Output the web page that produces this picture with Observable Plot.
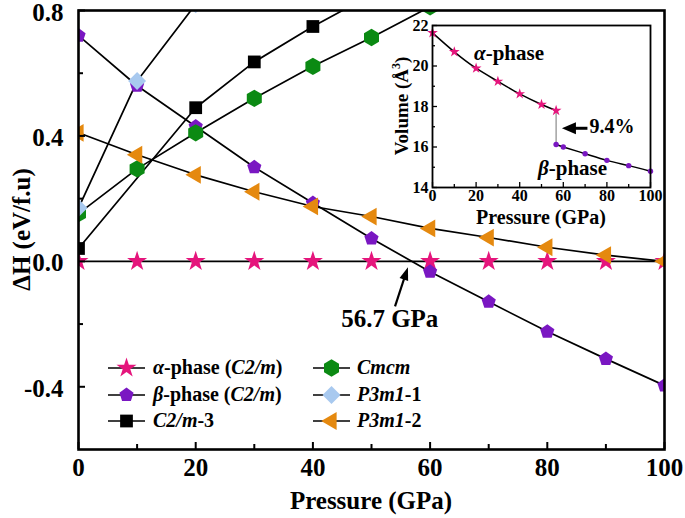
<!DOCTYPE html>
<html><head><meta charset="utf-8">
<script src="https://cdn.jsdelivr.net/npm/d3@7"></script>
<script src="https://cdn.jsdelivr.net/npm/@observablehq/plot@0.6"></script>
<style>
body{margin:0;background:#fff}
#wrap{position:relative;width:685px;height:518px;overflow:hidden}
#wrap svg{position:absolute;left:0;top:0}
</style></head><body><div id="wrap"></div>
<script>
// ---------- data (main chart: enthalpy difference vs pressure) ----------
const pressure = [0,10,20,30,40,50,60,70,80,90,100];
const alphaDH  = [0,0,0,0,0,0,0,0,0,0,0];
const betaDH   = [0.72,0.56,0.43,0.30,0.186,0.073,-0.033,-0.129,-0.224,-0.311,-0.396];
const c2m3P    = [0,20,30,40,50];
const c2m3DH   = [0.041,0.49,0.636,0.749,0.85];
const cmcmP    = [0,10,20,30,40,50,60];
const cmcmDH   = [0.152,0.295,0.41,0.52,0.622,0.714,0.812];
const p3m1aP   = [0,10,20];
const p3m1aDH  = [0.17,0.575,0.82];
const p3m1bDH  = [0.41,0.34,0.276,0.222,0.175,0.143,0.105,0.076,0.045,0.02,0.0];

// ---------- data (inset: volume vs pressure) ----------
const insetAlphaP = [0,10,20,30,40,50,56.7];
const insetAlphaV = [21.64,20.7,19.89,19.24,18.62,18.1,17.8];
const insetBetaP  = [56.7,60,70,80,90,100];
const insetBetaV  = [16.12,16.0,15.67,15.34,15.08,14.8];
const transitionP = 56.7;
const jumpLabel = "9.4%";
const transitionLabel = "56.7 GPa";

// ---------- ticks ----------
const xLabels = [0,20,40,60,80,100];
const xMinor  = [10,30,50,70,90];
const yLabels = [-0.4,0,0.4,0.8];
const yMinor  = [-0.2,0.2,0.6];
const insetXLabels = [0,20,40,60,80,100];
const insetXMinor = [10,30,50,70,90];
const insetYLabels = [14,16,18,20,22];
const insetYMinor = [15,17,19,21];

// ---------- symbols ----------
const pentagon = {draw(ctx,size){const R=Math.sqrt(size/(2.5*Math.sin(2*Math.PI/5)));for(let k=0;k<5;k++){const a=-Math.PI/2+k*2*Math.PI/5,x=R*Math.cos(a),y=R*Math.sin(a);k?ctx.lineTo(x,y):ctx.moveTo(x,y);}ctx.closePath();}};
const hexagon = {draw(ctx,size){const rx=Math.sqrt(size/Math.PI),ry=rx*2/Math.sqrt(3);ctx.moveTo(0,-ry);ctx.lineTo(rx,-ry/2);ctx.lineTo(rx,ry/2);ctx.lineTo(0,ry);ctx.lineTo(-rx,ry/2);ctx.lineTo(-rx,-ry/2);ctx.closePath();}};
const triLeft = {draw(ctx,size){const s=Math.sqrt(4*size/Math.sqrt(3)),h=s*Math.sqrt(3)/2;ctx.moveTo(-2*h/3,0);ctx.lineTo(h/3,-s/2);ctx.lineTo(h/3,s/2);ctx.closePath();}};

const series = [
  {key:"alpha", P:pressure, H:alphaDH, symbol:d3.symbolStar,    color:"#e5157c", r:6.3,
   label:[["α",1],["-phase (",0],["C2/m",1],[")",0]]},
  {key:"beta",  P:pressure, H:betaDH,  symbol:pentagon,         color:"#7a17c2", r:6.5,
   label:[["β",1],["-phase (",0],["C2/m",1],[")",0]]},
  {key:"c2m3",  P:c2m3P,   H:c2m3DH,  symbol:d3.symbolSquare,   color:"#000000", r:7.2,
   label:[["C2/m",1],["-3",0]]},
  {key:"cmcm",  P:cmcmP,   H:cmcmDH,  symbol:hexagon,           color:"#0b8a13", r:7.5,
   label:[["Cmcm",1]]},
  {key:"p3m1a", P:p3m1aP,  H:p3m1aDH, symbol:d3.symbolDiamond2, color:"#a8c9ef", r:8.1,
   label:[["P3m1",1],["-1",0]]},
  {key:"p3m1b", P:pressure, H:p3m1bDH, symbol:triLeft,          color:"#e5890f", r:6.6,
   label:[["P3m1",1],["-2",0]]}
];
const rowsOf = s => s.P.map((p,i)=>({P:p,H:s.H[i]}));

const FONT = "'Liberation Serif','Times New Roman',serif";
const W=685,H=518,mL=78,mR=21,mT=10,mB=69;
const fw=W-mL-mR, fh=H-mT-mB;

const main = Plot.plot({
  width:W, height:H, marginLeft:mL, marginRight:mR, marginTop:mT, marginBottom:mB,
  x:{domain:[0,100]}, y:{domain:[-0.6,0.8]},
  style:{fontFamily:FONT, fontWeight:"bold", background:"transparent", color:"black", overflow:"visible"},
  marks:[
    ...series.map(s=>Plot.line(rowsOf(s),{x:"P",y:"H",stroke:"black",strokeWidth:1.7,clip:true})),
    ...series.map(s=>Plot.dot(rowsOf(s),{x:"P",y:"H",symbol:s.symbol,r:s.r,fill:s.color,stroke:"none",clip:true})),
    Plot.tickX(xLabels,{x:d=>d,insetTop:fh-7,strokeWidth:2}),
    Plot.tickX(xMinor,{x:d=>d,insetTop:fh-5,strokeWidth:2}),
    Plot.tickY(yLabels,{y:d=>d,insetRight:fw-7,strokeWidth:2}),
    Plot.tickY(yMinor,{y:d=>d,insetRight:fw-5,strokeWidth:2}),
    Plot.axisX({ticks:xLabels,tickSize:0,tickPadding:9,label:null,fontSize:25,fontWeight:"bold"}),
    Plot.axisY({ticks:yLabels,tickSize:0,tickPadding:15,label:null,fontSize:25,fontWeight:"bold",tickFormat:d=>d.toFixed(1),dy:2}),
    Plot.frame({strokeWidth:2.6})
  ]
});

const iW=295,iH=230,imL=52,imR=25,imT=25,imB=43;
const ifw=iW-imL-imR, ifh=iH-imT-imB;
const alphaRows = insetAlphaP.map((p,i)=>({P:p,V:insetAlphaV[i]}));
const betaRows  = insetBetaP.map((p,i)=>({P:p,V:insetBetaV[i]}));
const jump = [{P:transitionP, v1:insetAlphaV[insetAlphaV.length-1], v2:insetBetaV[0]}];
const inset = Plot.plot({
  width:iW, height:iH, marginLeft:imL, marginRight:imR, marginTop:imT, marginBottom:imB,
  x:{domain:[0,100]}, y:{domain:[14,22]},
  style:{fontFamily:FONT, fontWeight:"bold", background:"transparent", color:"black"},
  marks:[
    Plot.ruleX(jump,{x:"P",y1:"v1",y2:"v2",stroke:"#8a8a8a",strokeWidth:1.2}),
    Plot.line(alphaRows,{x:"P",y:"V",curve:"natural",stroke:"black",strokeWidth:1.5}),
    Plot.line(betaRows,{x:"P",y:"V",curve:"natural",stroke:"black",strokeWidth:1.5}),
    Plot.dot(alphaRows,{x:"P",y:"V",symbol:d3.symbolStar,r:3.4,fill:series[0].color,stroke:"none"}),
    Plot.dot(betaRows,{x:"P",y:"V",r:2.7,fill:series[1].color,stroke:"none"}),
    Plot.tickX(insetXLabels,{x:d=>d,insetTop:ifh-5,strokeWidth:1.3}),
    Plot.tickX(insetXMinor,{x:d=>d,insetTop:ifh-3,strokeWidth:1.3}),
    Plot.tickY(insetYLabels,{y:d=>d,insetRight:ifw-5,strokeWidth:1.3}),
    Plot.tickY(insetYMinor,{y:d=>d,insetRight:ifw-3,strokeWidth:1.3}),
    Plot.axisX({ticks:insetXLabels,tickSize:0,tickPadding:2,label:null,fontSize:16,fontWeight:"bold"}),
    Plot.axisY({ticks:insetYLabels,tickSize:0,tickPadding:4,label:null,fontSize:16,fontWeight:"bold"}),
    Plot.frame({strokeWidth:1.8})
  ]
});

const wrap = document.getElementById("wrap");
wrap.appendChild(main);
inset.style.left = "380px"; inset.style.top = "0px";
wrap.appendChild(inset);

function richText(g, x, y, parts, size, anchor){
  const t = g.append("text").attr("x",x).attr("y",y).attr("font-family",FONT).attr("font-weight","bold")
    .attr("font-size",size).attr("dominant-baseline","middle").attr("text-anchor",anchor||"start").attr("fill","black");
  parts.forEach(([s,it])=>t.append("tspan").attr("font-style",it?"italic":"normal").text(s));
  return t;
}
function arrow(g,x1,y1,x2,y2,len,wid,sw){
  const dx=x2-x1, dy=y2-y1, L=Math.hypot(dx,dy), ux=dx/L, uy=dy/L;
  const bx=x2-ux*len, by=y2-uy*len;
  g.append("line").attr("x1",x1).attr("y1",y1).attr("x2",bx+ux).attr("y2",by+uy).attr("stroke","black").attr("stroke-width",sw);
  g.append("path").attr("d",`M${x2},${y2}L${bx-uy*wid/2},${by+ux*wid/2}L${bx+uy*wid/2},${by-ux*wid/2}Z`).attr("fill","black");
}

// main annotations
const sx = main.scale("x"), sy = main.scale("y");
const ms = d3.select(main);
ms.append("text").attr("x",mL+fw/2).attr("y",503).attr("text-anchor","middle").attr("dominant-baseline","middle")
  .attr("font-family",FONT).attr("font-weight","bold").attr("font-size",25).text("Pressure (GPa)");
ms.append("text").attr("transform",`translate(24,${mT+fh/2}) rotate(-90)`).attr("text-anchor","middle").attr("dominant-baseline","middle")
  .attr("font-family",FONT).attr("font-weight","bold").attr("font-size",25).text("ΔH (eV/f.u)");
arrow(ms, sx.apply(54.1), sy.apply(-0.145), sx.apply(56.3), sy.apply(-0.02), 13, 9, 2.2);
richText(ms, sx.apply(53.2), sy.apply(-0.193), [[transitionLabel,0]], 25, "middle");

// legend
const legendCols = [{x0:108,x1:145,tx:153},{x0:313,x1:350,tx:357}];
const legendRows = [368,395,421];
series.forEach((s,i)=>{
  const c = legendCols[Math.floor(i/3)], y = legendRows[i%3];
  ms.append("line").attr("x1",c.x0).attr("x2",c.x1).attr("y1",y).attr("y2",y).attr("stroke","black").attr("stroke-width",1.7);
  ms.append("path").attr("transform",`translate(${(c.x0+c.x1)/2},${y})`)
    .attr("d",d3.symbol(s.symbol,Math.PI*s.r*s.r)()).attr("fill",s.color);
  richText(ms, c.tx, y+1, s.label, 20);
});

// inset annotations
const ix = inset.scale("x"), iy = inset.scale("y");
const is = d3.select(inset);
is.append("text").attr("transform",`translate(24,${imT+ifh/2}) rotate(-90)`).attr("text-anchor","middle").attr("dominant-baseline","middle")
  .attr("font-family",FONT).attr("font-weight","bold").attr("font-size",19)
  .call(t=>{t.append("tspan").text("Volume (Å");t.append("tspan").attr("baseline-shift","super").attr("font-size",12).text("3");t.append("tspan").text(")");});
is.append("text").attr("x",imL+ifw/2).attr("y",iH-11).attr("text-anchor","middle").attr("dominant-baseline","middle")
  .attr("font-family",FONT).attr("font-weight","bold").attr("font-size",20).text("Pressure (GPa)");
richText(is, ix.apply(19.3), iy.apply(20.52), [["α",1],["-phase",0]], 21);
richText(is, ix.apply(48.6), iy.apply(14.84), [["β",1],["-phase",0]], 21);
arrow(is, ix.apply(71.3), iy.apply(16.9), ix.apply(59.6), iy.apply(16.9), 14, 12, 3);
richText(is, ix.apply(72.2), iy.apply(16.9), [[jumpLabel,0]], 20);
</script></body></html>
